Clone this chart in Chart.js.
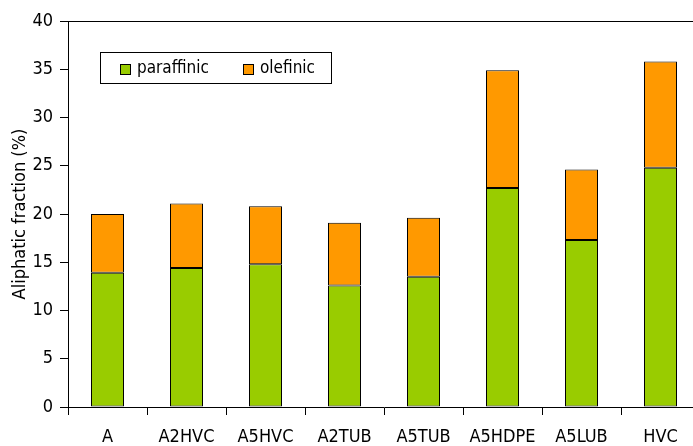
<!DOCTYPE html>
<html>
<head>
<meta charset="utf-8">
<script src="https://cdn.jsdelivr.net/npm/chart.js@4"></script>
<style>
  html, body { margin: 0; padding: 0; background: #fff; overflow: hidden; }
  #wrap { width: 700px; height: 446px; }
</style>
</head>
<body>
<div id="wrap"><canvas id="myChart" width="700" height="446"></canvas></div>
<script>
const categories = ["A", "A2HVC", "A5HVC", "A2TUB", "A5TUB", "A5HDPE", "A5LUB", "HVC"];
const paraffinic = [13.9, 14.4, 14.8, 12.6, 13.5, 22.7, 17.3, 24.8];
const olefinic = [6.1, 6.7, 6.0, 6.5, 6.1, 12.2, 7.3, 11.0];
const yTicks = [0, 5, 10, 15, 20, 25, 30, 35, 40];

const FONT = "'Liberation Sans Narrow', 'Arial Narrow', 'DejaVu Sans Condensed', sans-serif";

// legend box with a border, drawn inside the plot
const boxLegend = {
  id: "boxLegend",
  afterDraw(chart) {
    const c = chart.ctx;
    const area = chart.chartArea;
    c.save();
    // top border of plot area
    c.strokeStyle = "#000";
    c.lineWidth = 1;
    c.beginPath();
    c.moveTo(area.left, area.top + 0.5);
    c.lineTo(area.right, area.top + 0.5);
    c.stroke();

    c.strokeRect(100.5, 52.5, 231, 31);
    c.font = "17px " + FONT;
    c.textBaseline = "middle";
    const items = [
      { x: 120, ds: chart.data.datasets[0] },
      { x: 243, ds: chart.data.datasets[1] },
    ];
    items.forEach((it) => {
      c.fillStyle = it.ds.backgroundColor;
      c.fillRect(it.x, 64, 10, 10);
      c.strokeRect(it.x + 0.5, 64.5, 10, 10);
      c.fillStyle = "#000";
      c.fillText(it.ds.label, it.x + 17, 69);
    });
    c.restore();
  },
};

const ctx = document.getElementById("myChart").getContext("2d");
const myChart = new Chart(ctx, {
  type: "bar",
  data: {
    labels: categories,
    datasets: [
      {
        label: "paraffinic",
        data: paraffinic,
        backgroundColor: "#99CC00",
        borderColor: "#000",
        borderWidth: 1,
        borderSkipped: false,
        barPercentage: 33 / 79,
        categoryPercentage: 1,
      },
      {
        label: "olefinic",
        data: olefinic,
        backgroundColor: "#FF9900",
        borderColor: "#000",
        borderWidth: 1,
        borderSkipped: false,
        barPercentage: 33 / 79,
        categoryPercentage: 1,
      },
    ],
  },
  options: {
    responsive: false,
    animation: false,
    layout: { padding: { top: 21, right: 0, left: 0, bottom: 0 } },
    plugins: {
      legend: { display: false },
      tooltip: { enabled: false },
    },
    scales: {
      x: {
        stacked: true,
        offset: true,
        grid: { offset: true, drawOnChartArea: false, tickLength: 8, color: "#000" },
        border: { color: "#000" },
        ticks: { color: "#000", font: { family: FONT, size: 18 }, padding: 12, maxRotation: 0 },
        afterFit(scale) { scale.height = 39; },
      },
      y: {
        stacked: true,
        min: 0,
        max: 40,
        afterBuildTicks(scale) { scale.ticks = yTicks.map((v) => ({ value: v })); },
        grid: { drawOnChartArea: false, tickLength: 8, color: "#000" },
        border: { color: "#000" },
        ticks: { color: "#000", font: { family: FONT, size: 18 }, padding: 7 },
        title: {
          display: true,
          text: "Aliphatic fraction (%)",
          color: "#000",
          font: { family: FONT, size: 18 },
          padding: { top: 10, bottom: 0 },
        },
        afterFit(scale) { scale.width = 68; },
      },
    },
  },
  plugins: [boxLegend],
});
</script>
</body>
</html>
